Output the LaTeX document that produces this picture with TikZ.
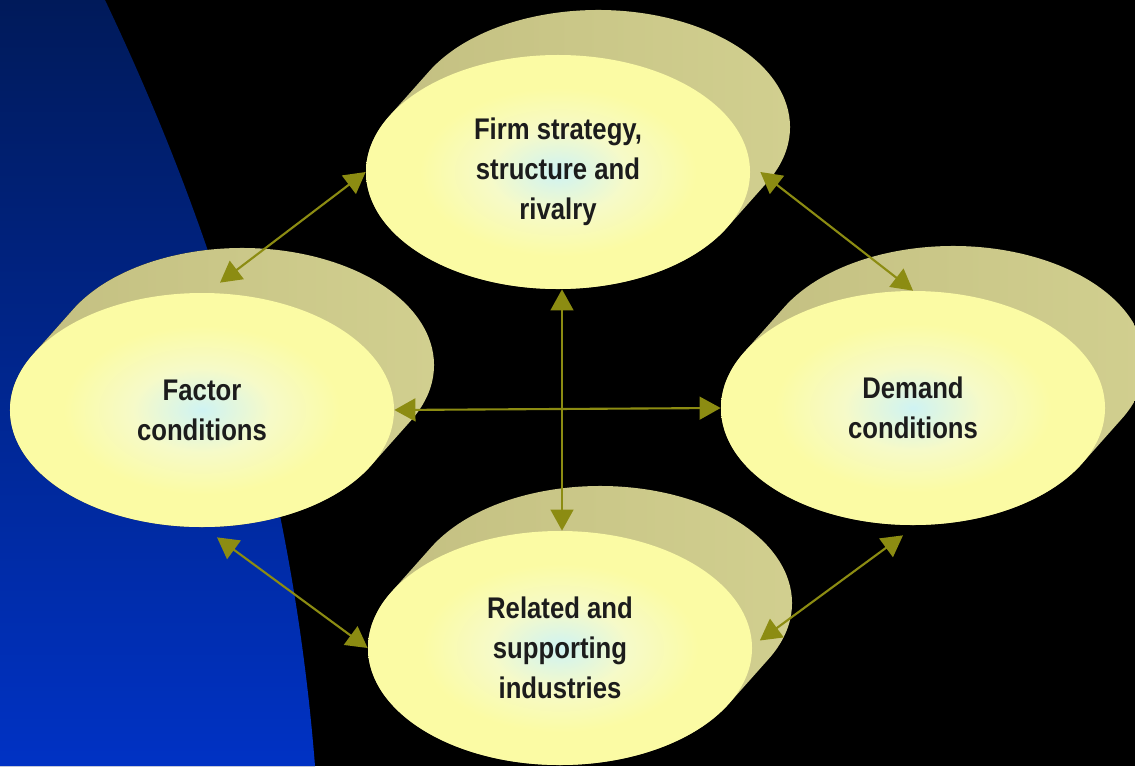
\documentclass[tikz,border=0pt]{standalone}
\usepackage{fontspec}
\newfontfamily\boxfont[FakeStretch=0.86]{Liberation Sans}
\usetikzlibrary{arrows.meta,shapes.geometric}

\definecolor{skytop}{HTML}{001A5A}
\definecolor{skybot}{HTML}{0032C4}
\definecolor{faceout}{HTML}{FBFBA4}
\definecolor{facemid}{HTML}{F6FAC8}
\definecolor{facein}{HTML}{CFF3F3}
\definecolor{bandL}{HTML}{C2BE80}
\definecolor{bandM}{HTML}{A6A268}
\definecolor{bandR}{HTML}{D2D090}
\definecolor{linkc}{HTML}{8C8C12}
\definecolor{inkc}{HTML}{1C1C1C}

\pgfdeclareradialshading{faceglow}{\pgfpoint{0bp}{0bp}}{color(0bp)=(facein); color(9bp)=(facemid); color(18bp)=(faceout); color(50bp)=(faceout)}

\tikzstyle{face}=[ellipse, minimum width=7.68cm, minimum height=4.68cm, inner sep=0pt, shade, shading=faceglow, text=inkc, align=center, font=\boxfont\bfseries\fontsize{17}{22.7}\selectfont]
\tikzstyle{band}=[left color=bandL, middle color=bandM, right color=bandR]
\tikzstyle{link}=[draw=linkc, line width=1.2pt, >={Triangle[length=12pt,width=13pt]}, <->]

\begin{document}
\begin{tikzpicture}

\useasboundingbox (0,0) rectangle (22.7,15.32);
\fill[black] (0,0) rectangle (22.7,15.32);

% blue sweep on the left
\fill[top color=skytop, bottom color=skybot] (0,15.32) -- (2.1,15.32) .. controls (4.0,11.32) and (5.8,6.32) .. (6.3,0) -- (0,0) -- cycle;

% back of the discs
\def \rx {3.84}
\def \ry {2.34}
\foreach \cx/\cy in {11.16/11.88, 4.04/7.12, 18.26/7.16, 11.2/2.36}{
  \fill[band] (\cx,\cy) ++(151.6:\rx cm and \ry cm) -- ++(0.8,0.9)
    arc[start angle=151.6, end angle=-28.4, x radius=\rx, y radius=\ry] -- ++(-0.8,-0.9)
    arc[start angle=-28.4, end angle=-208.4, x radius=\rx, y radius=\ry] -- cycle;
}

\node[face] (firm) at (11.16,11.88) {Firm strategy,\\structure and\\rivalry};
\node[face] (factor) at (4.04,7.12) {Factor\\conditions};
\node[face] (demand) at (18.26,7.16) {Demand\\conditions};
\node[face] (related) at (11.2,2.36) {Related and\\supporting\\industries};

\draw[link] ([shift={(0.36,0.2)}]factor.north) -- (firm.west);
\draw[link] ([xshift=0.2cm]firm.east) -- (demand.north);
\draw[link] (factor.east) -- (demand.west);
\draw[link] ([xshift=0.08cm]firm.south) -- ([xshift=0.08cm]firm.south |- related.north);
\draw[link] ([shift={(0.3,-0.2)}]factor.south) -- (related.west);
\draw[link] ([shift={(-0.2,-0.2)}]demand.south) -- ([shift={(0.15,0.15)}]related.east);

\end{tikzpicture}
\end{document}
